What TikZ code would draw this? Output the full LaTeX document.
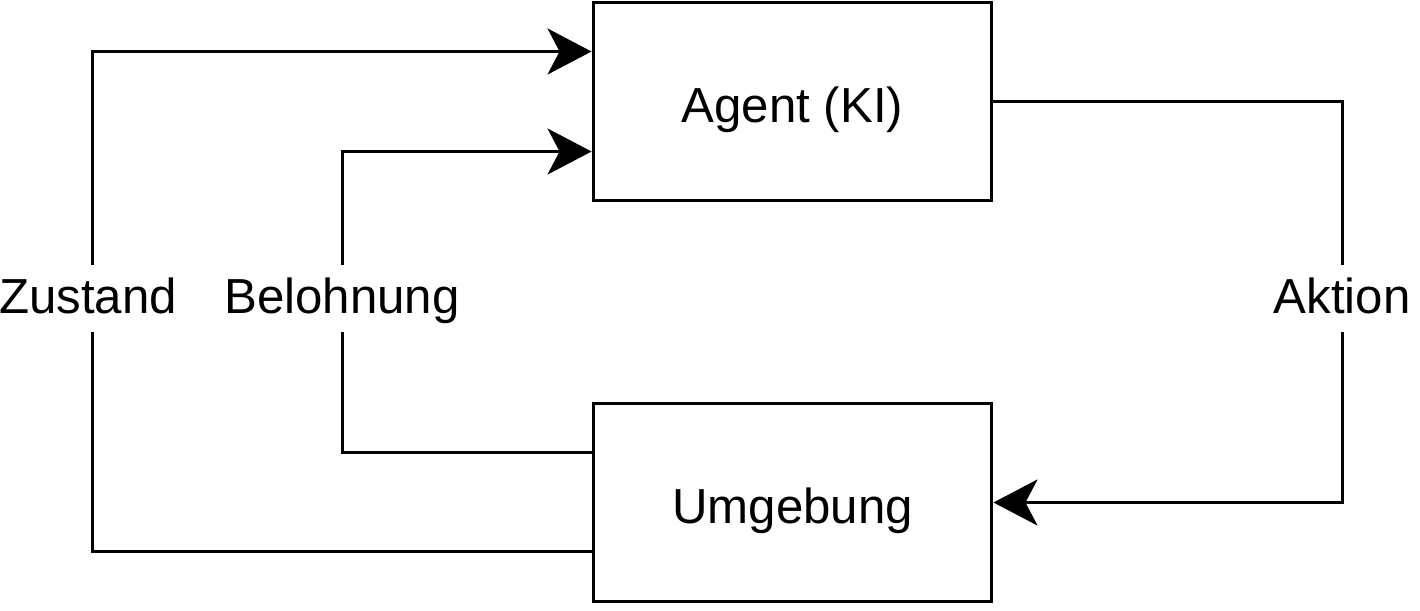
\documentclass[tikz,border=0pt]{standalone}
\usepackage{fontspec}
\setmainfont{Liberation Sans}
\usetikzlibrary{arrows.meta, positioning, calc}

\begin{document}
\begin{tikzpicture}[
    x=0.02cm, y=-0.02cm,
    every node/.style={font=\fontsize{28}{34}\selectfont},
    box/.style={draw, line width=0.06cm, minimum width=7.98cm, minimum height=3.96cm, align=center, text height=0.9cm, text depth=0.08cm},
    lbl/.style={fill=white, inner sep=0.17cm, text height=0.8cm, text depth=0.2cm},
    conn/.style={line width=0.06cm},
    arr/.style={conn, -{Stealth[length=0.88cm, width=0.92cm, inset=0.24cm]}}
]
    \useasboundingbox (0,0) rectangle (1420,610);
    % boxes
    \node[box] (agent) at (792.5,101.5) {Agent (KI)};
    \node[box] (env) at (792.5,502.5) {Umgebung};
    % Zustand
    \draw[arr] ($(env.west)+(0,49)$) -| (92,300) |- ($(agent.west)+(0,-50)$);
    \node[lbl] (zustand) at (88,298.5) {Zustand};
    % Belohnung
    \draw[arr] ($(env.west)+(0,-50)$) -| (342,300) |- ($(agent.west)+(0,50)$);
    \node[lbl] (belohnung) at (342,298.5) {Belohnung};
    % Aktion
    \draw[arr] (agent.east) -| (1342,300) |- (env.east);
    \node[lbl] (aktion) at (1342,298.5) {Aktion};
\end{tikzpicture}
\end{document}
